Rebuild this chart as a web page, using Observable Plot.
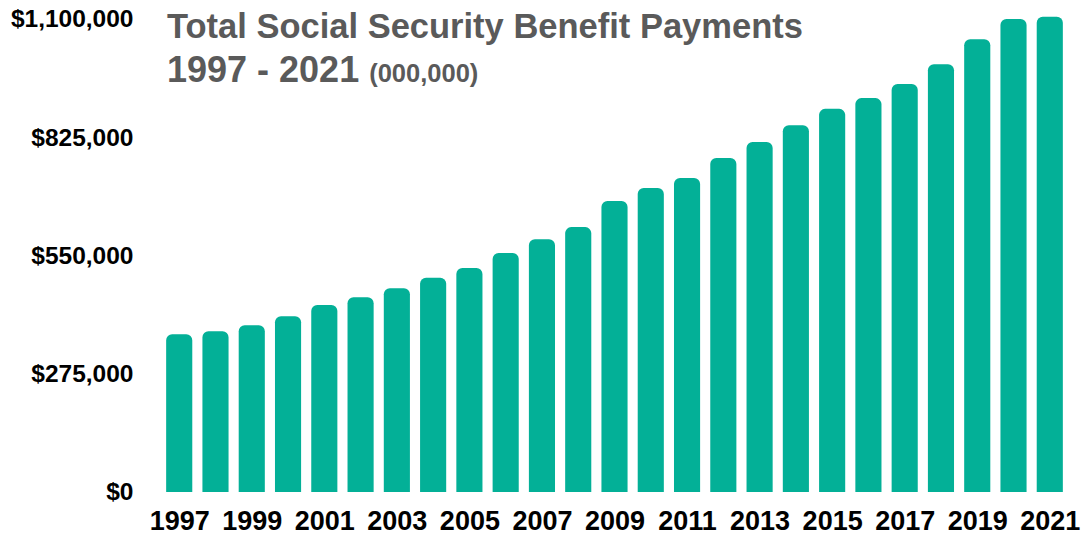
<!DOCTYPE html>
<html>
<head>
<meta charset="utf-8">
<script src="https://cdn.jsdelivr.net/npm/d3@7"></script>
<script src="https://cdn.jsdelivr.net/npm/@observablehq/plot@0.6"></script>
<style>
  html, body { margin: 0; padding: 0; background: #fff; }
  #wrap { position: relative; width: 1083px; height: 537px; }
  #title {
    position: absolute; left: 167px; top: 4px;
    font-family: "Liberation Sans", Arial, Helvetica, sans-serif;
    font-weight: bold; color: #5a5a5a; pointer-events: none;
  }
  #title .l1 { font-size: 34.5px; line-height: 44px; }
  #title .l2 { font-size: 36px; line-height: 44px; }
  #title .small { font-size: 25.5px; }
</style>
</head>
<body>
<div id="wrap">
  <div id="chart"></div>
  <div id="title"><div class="l1">Total Social Security Benefit Payments</div><div class="l2">1997 - 2021 <span class="small">(000,000)</span></div></div>
</div>
<script>
const years = [1997,1998,1999,2000,2001,2002,2003,2004,2005,2006,2007,2008,2009,2010,2011,2012,2013,2014,2015,2016,2017,2018,2019,2020,2021];
const payments = [367000,374000,388000,409000,435000,453000,474000,498000,521000,556000,588000,616000,677000,707000,730000,777000,814000,853000,891000,916000,949000,995000,1053000,1100000,1105000];
const yTicks = [0,275000,550000,825000,1100000];
const xTicks = [1997,1999,2001,2003,2005,2007,2009,2011,2013,2015,2017,2019,2021];

const data = years.map((y, i) => ({year: y, value: payments[i]}));

const chart = Plot.plot({
  width: 1083,
  height: 537,
  marginLeft: 156,
  marginRight: 10,
  marginTop: 19,
  marginBottom: 45,
  style: {fontFamily: '"Liberation Sans", Arial, Helvetica, sans-serif', fontWeight: "bold", color: "#000", background: "#fff"},
  x: {type: "band", domain: years, padding: 0.28, round: false},
  y: {domain: [0, 1100000]},
  marks: [
    Plot.barY(data, {x: "year", y: "value", fill: "#03b097", ry1: 6}),
    Plot.axisY({ticks: yTicks, tickSize: 0, tickPadding: 23, fontSize: 24.5, fontWeight: "bold", tickFormat: d => "$" + d3.format(",")(d), label: null}),
    Plot.axisX({ticks: xTicks, tickSize: 0, tickPadding: 18, fontSize: 27, fontWeight: "bold", label: null, tickFormat: d => String(d)})
  ]
});
document.getElementById("chart").appendChild(chart);
</script>
</body>
</html>
